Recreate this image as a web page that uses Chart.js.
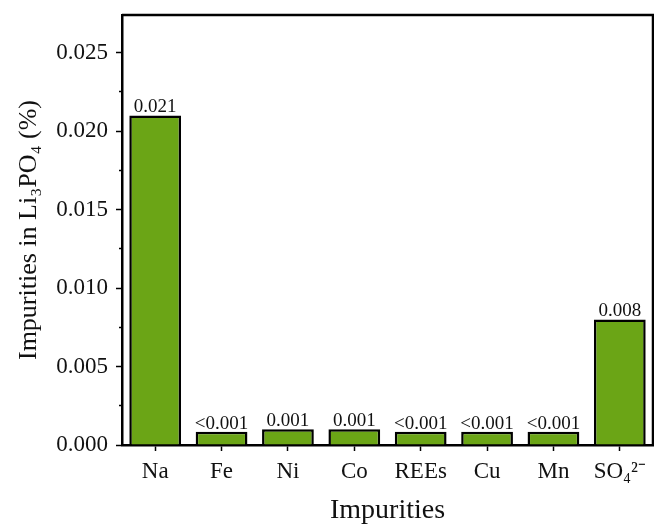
<!DOCTYPE html>
<html lang="en">
<head>
    <meta charset="UTF-8">
    <title>Impurities in Li3PO4</title>
    <script src="https://cdn.jsdelivr.net/npm/chart.js@4"></script>
    <style>
        body { margin: 0; background: #fff; }
    </style>
</head>
<body>
    <canvas id="myChart" width="654" height="528"></canvas>

    <script>
        // data
        var categories = ['Na', 'Fe', 'Ni', 'Co', 'REEs', 'Cu', 'Mn', 'SO\u2084\u00b2\u207b'];
        var impurities = [0.021, 0.00085, 0.001, 0.001, 0.00085, 0.00085, 0.00085, 0.008];
        var barLabels = ['0.021', '<0.001', '0.001', '0.001', '<0.001', '<0.001', '<0.001', '0.008'];
        var yTickValues = [0, 0.0025, 0.005, 0.0075, 0.01, 0.0125, 0.015, 0.0175, 0.02, 0.0225, 0.025];

        var serif = '"Liberation Serif", "Times New Roman", serif';
        Chart.defaults.font.family = serif;
        Chart.defaults.color = '#111';

        var isMinor = function (v) {
            return Math.round(v / 0.0025) % 2 !== 0;
        };

        // values written on top of the bars + the top/right frame
        var extras = {
            id: 'extras',
            afterDatasetsDraw: function (chart) {
                var ctx = chart.ctx;
                var meta = chart.getDatasetMeta(0);
                ctx.save();
                ctx.font = '19px ' + serif;
                ctx.fillStyle = '#111';
                ctx.textAlign = 'center';
                ctx.textBaseline = 'alphabetic';
                meta.data.forEach(function (bar, i) {
                    ctx.fillText(barLabels[i], bar.x, bar.y - 3);
                });
                ctx.restore();
            },
            afterDraw: function (chart) {
                var ctx = chart.ctx;
                var a = chart.chartArea;
                ctx.save();
                ctx.strokeStyle = '#000';
                ctx.lineWidth = 2.5;
                ctx.beginPath();
                ctx.moveTo(a.left, a.top);
                ctx.lineTo(a.right, a.top);
                ctx.lineTo(a.right, a.bottom);
                ctx.stroke();
                ctx.restore();
            }
        };

        var ctx = document.getElementById('myChart').getContext('2d');
        var myChart = new Chart(ctx, {
            type: 'bar',
            data: {
                labels: categories,
                datasets: [{
                    data: impurities,
                    backgroundColor: '#6ba516',
                    borderColor: '#000',
                    borderWidth: 2.5,
                    barPercentage: 0.78,
                    categoryPercentage: 1
                }]
            },
            options: {
                responsive: false,
                animation: false,
                layout: { padding: { top: 0, right: 1, left: 0, bottom: 0 } },
                plugins: {
                    legend: { display: false },
                    tooltip: { enabled: false }
                },
                scales: {
                    x: {
                        grid: {
                            offset: false,
                            drawOnChartArea: false,
                            tickLength: 6,
                            tickColor: '#000',
                            tickWidth: 1.5
                        },
                        border: { display: true, color: '#000', width: 2.5 },
                        ticks: {
                            padding: 7,
                            maxRotation: 0,
                            autoSkip: false,
                            font: { size: 23 }
                        },
                        title: {
                            display: true,
                            text: 'Impurities',
                            font: { size: 28 },
                            padding: { top: 0, bottom: 1 }
                        },
                        afterFit: function (scale) {
                            scale.height = 83;
                            scale.paddingLeft = 0;
                            scale.paddingRight = 0;
                        }
                    },
                    y: {
                        min: 0,
                        max: 0.0274,
                        afterBuildTicks: function (scale) {
                            scale.ticks = yTickValues.map(function (v) { return { value: v }; });
                        },
                        grid: {
                            drawOnChartArea: false,
                            tickLength: 6,
                            tickColor: '#000',
                            tickWidth: 1.5,
                            tickBorderDash: function (c) {
                                return c.tick && isMinor(c.tick.value) ? [0, 3, 10] : [];
                            }
                        },
                        border: { display: true, color: '#000', width: 2.5 },
                        ticks: {
                            padding: 8,
                            font: { size: 23 },
                            callback: function (v) {
                                return isMinor(v) ? '' : v.toFixed(3);
                            }
                        },
                        title: {
                            display: true,
                            text: 'Impurities in Li\u2083PO\u2084 (%)',
                            font: { size: 26 },
                            padding: { top: 14, bottom: 0 }
                        },
                        afterFit: function (scale) {
                            scale.width = 122;
                            scale.paddingTop = 15;
                            scale.paddingBottom = 0;
                        }
                    }
                }
            },
            plugins: [extras]
        });
    </script>
</body>
</html>
